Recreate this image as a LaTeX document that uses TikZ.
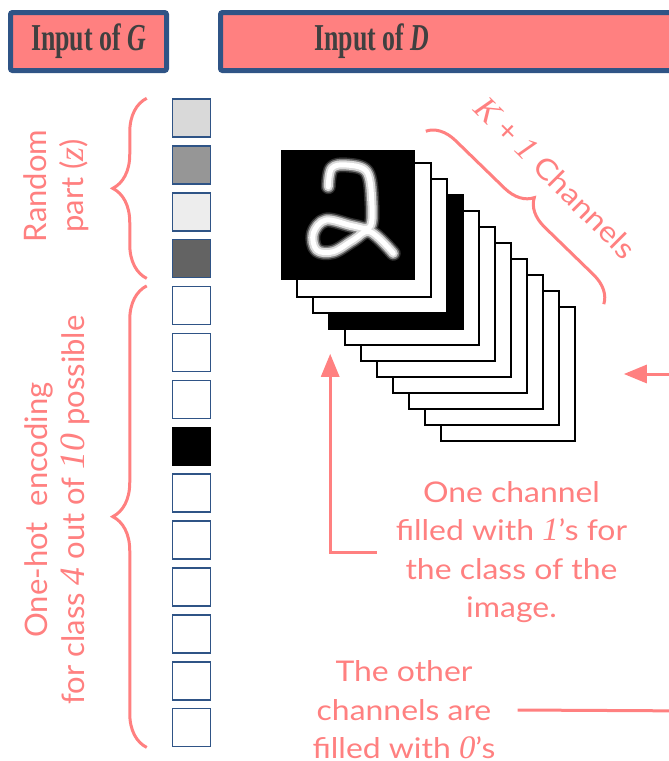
\documentclass[tikz,border=0pt]{standalone}
\usepackage{fontspec}
\newfontfamily\labelfont{Lato}
\newfontfamily\notefont[FakeStretch=1.12]{Lato}
\newfontfamily\numfont[Scale=1.15]{Liberation Serif}
\newfontfamily\headfont[FakeStretch=0.68]{Liberation Serif}
\usetikzlibrary{arrows.meta,decorations.pathreplacing}
\definecolor{gansalmon}{RGB}{255,128,128}
\definecolor{ganblue}{RGB}{47,84,134}
\definecolor{gantext}{RGB}{64,64,64}
\newcommand{\itnum}[1]{{\numfont\itshape #1}}

\begin{document}
\begin{tikzpicture}[x=1pt,y=-1pt]

%
% Styles
%
\tikzstyle{header}   = [draw=ganblue,line width=5pt,fill=gansalmon,rounded corners=2pt,minimum height=58pt,inner sep=0pt]
\tikzstyle{headtext} = [text=gantext,font=\headfont\bfseries\fontsize{38}{44}\selectfont,inner sep=0pt]
\tikzstyle{cell}     = [draw=ganblue,line width=1.5pt,fill=white,minimum size=38pt,inner sep=0pt]
\tikzstyle{hot}      = [cell,draw=black,fill=black]
\tikzstyle{plate}    = [draw=black,line width=1.6pt,fill=white,minimum size=134pt,inner sep=0pt]
\tikzstyle{note}     = [text=gansalmon,font=\notefont\fontsize{28.5}{38.5}\selectfont,align=center,inner sep=0pt]
\tikzstyle{side}     = [note,font=\labelfont\fontsize{31}{37}\selectfont,rotate=90]
\tikzstyle{curly}    = [draw=gansalmon,line width=3pt,decorate,decoration={brace,amplitude=34pt}]
\tikzstyle{leader}   = [draw=gansalmon,line width=3pt]
\tikzstyle{pointer}  = [leader,-{Triangle[width=18pt,length=23pt]}]
\tikzstyle{stroke}   = [line cap=round,line join=round]

\useasboundingbox (0,0) rectangle (669,761);

% headers
\node[header,minimum width=156pt] (inG) at (88.5,41.5) {};
\node[headtext] at (inG.center) {Input of \textit{G}};
\node[header,anchor=west,minimum width=560pt] (inD) at (218,41.5) {};
\node[headtext] at (372,41.5) {Input of \textit{D}};

% input of G: random part and one-hot class
\foreach \g [count=\i] in {85,59,93,39}
  \node[cell,fill=white!\g!black] (z\i) at (191.5,{118+46.9*(\i-1)}) {};
\foreach \s [count=\i] in {cell,cell,cell,hot,cell,cell,cell,cell,cell,cell}
  \node[\s] (c\i) at (191.5,{118+46.9*(\i+3)}) {};

\draw[curly] ([xshift=-25pt]z4.south west) -- ([xshift=-25pt]z1.north west);
\draw[curly] ([xshift=-25pt]c10.south west) -- ([xshift=-25pt]c1.north west);

\node[side] (zlab) at (56.5,186) {Random\\part (\itnum{z})};
\node[side] (ylab) at (57,510) {One-hot\ \ encoding\\for class \itnum{4} out of \itnum{10} possible};

% input of D: K+1 channels, back to front
\foreach \k/\f in {10/white,9/white,8/white,7/white,6/white,5/white,4/white,3/black,2/white,1/white}
  \node[plate,fill=\f] (ch\k) at ({364+16*(\k-1)},{230+16*(\k-1)}) {};

\node[plate,fill=black,minimum width=132pt,minimum height=128pt] (img) at (348,215) {};
\begin{scope}[shift={(img.center)}]
  \foreach \w/\c in {15/white!18!black,12/white!50!black,9/white!85!black,5/white}
    \draw[stroke,line width=\w pt,draw=\c] plot[smooth,tension=0.6] coordinates
      {(-19.7,-28.3) (-16.3,-46.7) (-1.3,-50) (18.7,-43.3) (23.7,-15) (22,11.7)
       (5.3,11) (-22,5) (-34.7,18.3) (-31.3,35) (-14.7,36.7) (5.3,25) (22,16.7) (45.3,38.3)};
\end{scope}

\draw[curly,decoration={brace,amplitude=28pt}] ([shift={(11,-19)}]img.north east) -- ([shift={(28,-2)}]ch10.north east);
\node[note,font=\notefont\fontsize{29}{36}\selectfont,rotate=-45] (klab) at (556,178) {\itnum{K} + \itnum{1} Channels};

% notes and connectors
\node[note,inner xsep=19pt] (one) at (511.5,552) {One channel\\filled with \itnum{1}’s for\\the class of the\\image.};
\draw[pointer] (one.west) -| ([xshift=2pt,yshift=-24pt]ch3.south west);

\coordinate (fromright) at (700,374);
\draw[pointer] (fromright) -- ([xshift=48pt]ch10.east);

\node[note,inner xsep=22pt] (other) at (404,710) {The other\\channels are\\filled with \itnum{0}’s};
\coordinate (toright) at (700,711);
\draw[leader] (other.east) -- (toright);

\end{tikzpicture}
\end{document}
